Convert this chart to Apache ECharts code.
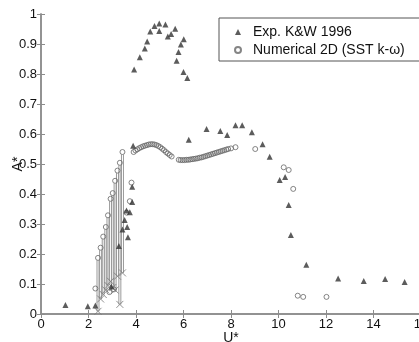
<!DOCTYPE html>
<html>
<head>
<meta charset="utf-8">
<script src="https://cdn.jsdelivr.net/npm/echarts@6/dist/echarts.min.js"></script>
<style>
  html, body { margin: 0; padding: 0; background: #fff; }
  #main { width: 419px; height: 342px; }
</style>
</head>
<body>
<div id="main"></div>
<script>
// x axis ticks 0..16 step 2, y axis 0..1 step 0.1
var xTicks = [0, 2, 4, 6, 8, 10, 12, 14, 16];
var yTicks = [0, 0.1, 0.2, 0.3, 0.4, 0.5, 0.6, 0.7, 0.8, 0.9, 1];

// Exp. K&W 1996 (triangles) [U*, A*]
var expData = [
  [1.03, 0.030], [1.97, 0.026], [2.29, 0.028], [2.96, 0.092], [3.28, 0.227],
  [3.43, 0.282], [3.52, 0.313], [3.60, 0.345], [3.63, 0.290], [3.66, 0.256],
  [3.74, 0.339], [3.84, 0.373], [3.84, 0.424], [3.88, 0.561],
  [3.92, 0.815], [4.16, 0.856], [4.37, 0.885], [4.47, 0.908], [4.60, 0.942],
  [4.78, 0.960], [4.98, 0.968], [4.98, 0.943], [5.24, 0.965], [5.34, 0.925],
  [5.48, 0.933], [5.65, 0.951], [5.71, 0.844], [5.79, 0.873], [5.89, 0.898],
  [6.01, 0.916], [6.00, 0.807], [6.16, 0.787],
  [6.22, 0.581], [6.97, 0.617], [7.55, 0.610], [7.84, 0.597], [8.19, 0.629],
  [8.47, 0.629], [8.88, 0.606], [9.33, 0.566], [9.63, 0.524], [10.05, 0.447],
  [10.28, 0.457], [10.43, 0.363], [10.52, 0.263], [11.17, 0.164], [12.51, 0.118],
  [13.59, 0.110], [14.49, 0.117], [15.31, 0.107]
];

// Numerical 2D (SST k-w) (open circles) [U*, A*]
var numData = [
  [2.29, 0.085], [2.88, 0.073], [3.07, 0.082],
  [2.40, 0.187], [2.51, 0.221], [2.62, 0.258], [2.73, 0.290], [2.82, 0.329],
  [2.93, 0.384], [3.02, 0.403], [3.12, 0.444], [3.22, 0.478], [3.32, 0.504],
  [3.43, 0.540], [3.60, 0.338], [3.74, 0.376], [3.81, 0.438],
  [3.90, 0.540], [3.98, 0.545], [4.06, 0.549], [4.14, 0.553], [4.22, 0.556],
  [4.30, 0.559], [4.38, 0.561], [4.46, 0.563], [4.54, 0.565], [4.62, 0.566],
  [4.70, 0.566], [4.78, 0.565], [4.86, 0.563], [4.94, 0.560], [5.02, 0.556],
  [5.10, 0.551], [5.18, 0.546], [5.26, 0.540], [5.34, 0.535], [5.42, 0.530],
  [5.50, 0.525], [5.80, 0.514], [5.88, 0.513], [5.96, 0.513], [6.04, 0.513],
  [6.12, 0.514], [6.20, 0.514], [6.28, 0.515], [6.36, 0.516], [6.44, 0.517],
  [6.52, 0.518], [6.60, 0.519], [6.68, 0.521], [6.76, 0.522], [6.84, 0.524],
  [6.92, 0.526], [7.00, 0.528], [7.08, 0.530], [7.16, 0.532], [7.24, 0.534],
  [7.32, 0.536], [7.40, 0.538], [7.48, 0.540], [7.56, 0.542], [7.64, 0.544],
  [7.72, 0.546], [7.80, 0.548], [7.88, 0.550], [8.00, 0.552], [8.19, 0.556],
  [9.02, 0.550], [10.22, 0.489], [10.43, 0.480], [10.62, 0.417],
  [10.81, 0.061], [11.04, 0.057], [12.02, 0.057]
];

// amplitude range bars of the numerical runs
var stemX    = [2.40, 2.51, 2.62, 2.73, 2.82, 2.93, 3.02, 3.12, 3.22, 3.32, 3.43];
var stemLow  = [0.009, 0.050, 0.065, 0.080, 0.095, 0.109, 0.088, 0.080, 0.126, 0.032, 0.137];
var stemHigh = [0.187, 0.221, 0.258, 0.290, 0.329, 0.384, 0.403, 0.444, 0.478, 0.504, 0.540];

var stemData = stemX.map(function (x, i) { return [x, stemLow[i], stemHigh[i]]; });
var crossData = stemX.map(function (x, i) { return [x, stemLow[i]]; });

var frame = { show: true, lineStyle: { color: '#8c8c8c', width: 1.5 } };
var ticks = { show: true, inside: true, length: 4, lineStyle: { color: '#8c8c8c' } };
var labelFont = { fontFamily: 'Liberation Sans, Arial, sans-serif', fontSize: 13, color: '#111' };

var option = {
  animation: false,
  grid: { left: 41, top: 14, width: 380, height: 300, containLabel: false, outerBoundsMode: 'none' },
  legend: {
    data: ['Exp. K&W 1996', 'Numerical 2D (SST k-ω)'],
    orient: 'vertical',
    left: 219,
    top: 18,
    padding: [6, 26, 3, 15],
    itemGap: 2,
    itemWidth: 6,
    itemHeight: 6,
    borderColor: '#555',
    borderWidth: 1,
    backgroundColor: '#fff',
    textStyle: {
      fontFamily: 'Liberation Sans, Arial, sans-serif',
      fontSize: 14,
      lineHeight: 16,
      color: '#111',
      padding: [0, 0, 0, 7]
    }
  },
  xAxis: [
    {
      type: 'value', min: xTicks[0], max: xTicks[xTicks.length - 1], interval: 2,
      name: 'U*', nameLocation: 'middle', nameGap: 17, nameMoveOverlap: false,
      nameTextStyle: { fontFamily: 'Liberation Sans, Arial, sans-serif', fontSize: 14, color: '#111' },
      axisLine: frame, axisTick: ticks,
      axisLabel: Object.assign({ margin: 4 }, labelFont),
      splitLine: { show: false }
    },
    {
      type: 'value', position: 'top', min: xTicks[0], max: xTicks[xTicks.length - 1], interval: 2,
      axisLine: frame, axisTick: ticks, axisLabel: { show: false }, splitLine: { show: false }
    }
  ],
  yAxis: [
    {
      type: 'value', min: yTicks[0], max: yTicks[yTicks.length - 1], interval: 0.1,
      name: 'A*', nameLocation: 'middle', nameGap: 16, nameRotate: 90, nameMoveOverlap: false,
      nameTextStyle: { fontFamily: 'Liberation Sans, Arial, sans-serif', fontSize: 14, color: '#111' },
      axisLine: frame, axisTick: ticks,
      axisLabel: Object.assign({ margin: 4 }, labelFont),
      splitLine: { show: false }
    },
    {
      type: 'value', position: 'right', min: yTicks[0], max: yTicks[yTicks.length - 1], interval: 0.1,
      axisLine: frame, axisTick: ticks, axisLabel: { show: false }, splitLine: { show: false }
    }
  ],
  series: [
    {
      name: 'stems',
      type: 'custom',
      data: stemData,
      renderItem: function (params, api) {
        var top = api.coord([api.value(0), api.value(2)]);
        var bot = api.coord([api.value(0), api.value(1)]);
        var st = { stroke: '#999', lineWidth: 1 };
        return {
          type: 'group',
          children: [
            { type: 'line', shape: { x1: top[0] - 1, y1: top[1] + 2.5, x2: bot[0] - 1, y2: bot[1] }, style: st },
            { type: 'line', shape: { x1: top[0] + 1, y1: top[1] + 2.5, x2: bot[0] + 1, y2: bot[1] }, style: st }
          ]
        };
      },
      z: 1
    },
    {
      name: 'cross',
      type: 'scatter',
      data: crossData,
      symbol: 'path://M0,0L10,10M10,0L0,10',
      symbolSize: 7,
      itemStyle: { color: 'transparent', borderColor: '#777', borderWidth: 1 },
      z: 2
    },
    {
      name: 'Numerical 2D (SST k-ω)',
      type: 'scatter',
      data: numData,
      symbol: 'circle',
      symbolSize: 5,
      itemStyle: { color: 'transparent', borderColor: '#666', borderWidth: 1 },
      z: 3
    },
    {
      name: 'Exp. K&W 1996',
      type: 'scatter',
      data: expData,
      symbol: 'triangle',
      symbolSize: 6,
      itemStyle: { color: '#333' },
      z: 4
    }
  ]
};

var chartDom = document.getElementById('main');
var myChart = echarts.init(chartDom);
myChart.setOption(option);
</script>
</body>
</html>
